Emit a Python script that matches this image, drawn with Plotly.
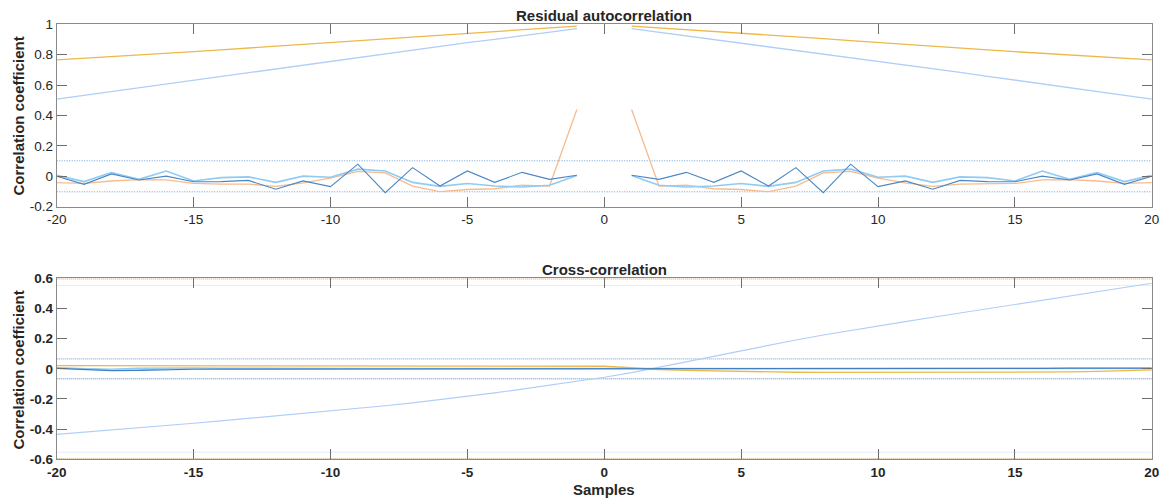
import plotly.graph_objects as go

# ---------------- data ----------------
# Residual autocorrelation, positive lags 1..20 (the function is symmetric in lag)
acf_lags = list(range(1, 21))
acf_bound_yellow = [0.988, 0.977, 0.965, 0.955, 0.944, 0.932, 0.919, 0.906, 0.893, 0.880,
                    0.868, 0.856, 0.844, 0.832, 0.820, 0.809, 0.798, 0.787, 0.776, 0.766]
acf_bound_blue = [0.972, 0.948, 0.924, 0.901, 0.879, 0.855, 0.831, 0.806, 0.782, 0.757,
                  0.732, 0.707, 0.683, 0.658, 0.633, 0.608, 0.583, 0.558, 0.533, 0.508]
acf_out1 = [0.007, -0.020, 0.026, -0.040, 0.035, -0.064, 0.057, -0.108, 0.080, -0.068,
            -0.030, -0.085, -0.027, -0.035, -0.036, 0.001, -0.024, 0.016, -0.053, 0.000]
acf_out2 = [0.005, -0.059, -0.070, -0.064, -0.047, -0.066, -0.040, 0.035, 0.047, -0.006,
            0.001, -0.040, -0.004, -0.009, -0.031, 0.035, -0.020, 0.025, -0.035, 0.006]
acf_out3 = [0.440, -0.064, -0.058, -0.082, -0.087, -0.101, -0.064, 0.022, 0.032, -0.012,
            -0.043, -0.066, -0.051, -0.051, -0.047, -0.024, -0.022, -0.031, -0.046, -0.042]
acf_conf = 0.102

# Cross-correlation, lags -20..20
ccf_lags = list(range(-20, 21))
ccf_in1 = [-0.435, -0.421, -0.407, -0.392, -0.377, -0.361, -0.345, -0.329, -0.313, -0.296,
           -0.279, -0.262, -0.245, -0.226, -0.205, -0.183, -0.159, -0.135, -0.110, -0.084,
           -0.056, -0.025, 0.009, 0.045, 0.082, 0.119, 0.156, 0.191, 0.224, 0.255,
           0.284, 0.313, 0.342, 0.370, 0.397, 0.424, 0.452, 0.480, 0.509, 0.538, 0.567]
ccf_in2 = [0.021, 0.021, 0.021, 0.021, 0.021, 0.021, 0.020, 0.020, 0.020, 0.020,
           0.020, 0.020, 0.020, 0.019, 0.019, 0.019, 0.019, 0.019, 0.018, 0.018,
           0.017, 0.007, -0.005, -0.011, -0.015, -0.019, -0.022, -0.023, -0.024, -0.024,
           -0.024, -0.024, -0.024, -0.024, -0.024, -0.024, -0.023, -0.021, -0.017, -0.012, -0.007]
ccf_in3 = [0.003, -0.006, -0.012, -0.010, -0.005, -0.003, -0.002, -0.002, -0.001, -0.002,
           -0.002, -0.001, -0.001, -0.001, -0.002, -0.002, -0.001, -0.001, -0.002, -0.002,
           -0.002, -0.002, -0.002, -0.002, -0.001, -0.001, -0.001, -0.001, 0.000, 0.000,
           0.000, 0.001, 0.001, 0.002, 0.002, 0.003, 0.003, 0.004, 0.004, 0.004, 0.004]
ccf_in4 = [0.006, 0.002, -0.002, 0.004, 0.006, 0.005, 0.004, 0.003, 0.003, 0.003,
           0.003, 0.003, 0.003, 0.003, 0.003, 0.002, 0.002, 0.002, 0.002, 0.002,
           0.002, 0.002, 0.002, 0.002, 0.002, 0.002, 0.002, 0.002, 0.002, 0.002,
           0.002, 0.002, 0.002, 0.003, 0.003, 0.003, 0.003, 0.003, 0.003, 0.003, 0.003]
ccf_in5 = [0.008, 0.001, -0.008, -0.007, 0.000, 0.002, 0.001, 0.001, 0.001, 0.001,
           0.001, 0.001, 0.001, 0.001, 0.001, 0.001, 0.001, 0.001, 0.001, 0.001,
           0.001, 0.001, 0.001, 0.001, 0.001, 0.001, 0.001, 0.001, 0.001, 0.001,
           0.001, 0.001, 0.001, 0.001, 0.001, 0.001, 0.001, 0.001, 0.001, 0.001, 0.001]
ccf_conf_inner = 0.066
ccf_conf_mid = 0.553
ccf_conf_outer = 0.596

x_ticks = [-20, -15, -10, -5, 0, 5, 10, 15, 20]
x_ticktext = ["-20", "-15", "-10", "-5", "0", "5", "10", "15", "20"]
y1_ticks = [-0.2, 0, 0.2, 0.4, 0.6, 0.8, 1]
y1_ticktext = ["-0.2", "0", "0.2", "0.4", "0.6", "0.8", "1"]
y2_ticks = [-0.6, -0.4, -0.2, 0, 0.2, 0.4, 0.6]
y2_ticktext = ["-0.6", "-0.4", "-0.2", "0", "0.2", "0.4", "0.6"]

# ---------------- helpers ----------------
FONT = "Arial, 'Liberation Sans', Helvetica, sans-serif"
TXT = "#262626"


def mirrored(values):
    """Lags -20..-1, gap at 0, lags 1..20."""
    xs = [-k for k in reversed(acf_lags)] + [0] + acf_lags
    ys = list(reversed(values)) + [None] + values
    return xs, ys


fig = go.Figure()


def line(x, y, color, width=1.0, dash="solid", axes=("x", "y")):
    fig.add_trace(go.Scatter(x=x, y=y, mode="lines", xaxis=axes[0], yaxis=axes[1],
                             line=dict(color=color, width=width, dash=dash),
                             connectgaps=False, hoverinfo="skip", showlegend=False))


# ---- top panel: residual autocorrelation ----
for lvl in (acf_conf, -acf_conf):
    line([-20, 20], [lvl, lvl], "#6A9FD8", 1.0, "1px,1.5px")
line(*mirrored(acf_bound_yellow), "#EDB84A", 1.3)
line(*mirrored(acf_bound_blue), "#B0CEF8", 1.3)
line(*mirrored(acf_out3), "#F7BB8F", 1.3)
line(*mirrored(acf_out2), "#8FCBF2", 1.6)
line(*mirrored(acf_out1), "#4A87C6", 1.1)

# ---- bottom panel: cross-correlation ----
ax2 = ("x2", "y2")
for lvl in (ccf_conf_outer, -ccf_conf_outer):
    line([-20, 20], [lvl, lvl], "#E8A84C", 1.2, "1px,1px", ax2)
for lvl in (ccf_conf_mid, -ccf_conf_mid):
    line([-20, 20], [lvl, lvl], "#C6D9F4", 1.0, "1px,1px", ax2)
for lvl in (ccf_conf_inner, -ccf_conf_inner):
    line([-20, 20], [lvl, lvl], "#86AEDA", 1.4, "1px,1px", ax2)
line(ccf_lags, ccf_in1, "#B0CEF8", 1.2, axes=ax2)
line(ccf_lags, ccf_in5, "#F7BB8F", 1.2, axes=ax2)
line(ccf_lags, ccf_in4, "#8FCBF2", 1.4, axes=ax2)
line(ccf_lags, ccf_in2, "#EDB84A", 1.3, axes=ax2)
line(ccf_lags, ccf_in3, "#3F7FC2", 1.2, axes=ax2)

# ---------------- layout ----------------
W, H = 1163, 499
x0, x1 = 56.7 / W, 1151.8 / W
top_dom = [1 - 206.7 / H, 1 - 24.3 / H]
bot_dom = [1 - 459.3 / H, 1 - 278.3 / H]

common_axis = dict(showgrid=False, zeroline=False, showline=True, linecolor="#8A8A8A",
                   linewidth=1, mirror="ticks", ticks="inside", ticklen=10, tickwidth=1,
                   tickcolor="#6E6E6E", automargin=False)

tick_reg = dict(family=FONT, size=13.5, color=TXT)
tick_bold = dict(family=FONT, size=13.5, color=TXT, weight="bold")

fig.update_layout(
    width=W, height=H, margin=dict(l=0, r=0, t=0, b=0, autoexpand=False),
    paper_bgcolor="white", plot_bgcolor="white",
    xaxis=dict(domain=[x0, x1], range=[-20, 20], anchor="y", tickvals=x_ticks,
               ticktext=x_ticktext, tickfont=tick_reg, **common_axis),
    yaxis=dict(domain=top_dom, range=[-0.2, 1], anchor="x", tickvals=y1_ticks,
               ticktext=y1_ticktext, tickfont=tick_reg, **common_axis),
    xaxis2=dict(domain=[x0, x1], range=[-20, 20], anchor="y2", tickvals=x_ticks,
                ticktext=x_ticktext, tickfont=tick_bold, **common_axis),
    yaxis2=dict(domain=bot_dom, range=[-0.6, 0.6], anchor="x2", tickvals=y2_ticks,
                ticktext=y2_ticktext, tickfont=tick_bold, **common_axis),
)

title_font = dict(family=FONT, size=15, color=TXT, weight="bold")
xc = (x0 + x1) / 2
annotations = [
    dict(text="Residual autocorrelation", x=xc, y=1 - 15 / H),
    dict(text="Cross-correlation", x=xc, y=1 - 269 / H),
    dict(text="Samples", x=xc, y=1 - 489 / H),
    dict(text="Correlation coefficient", x=17.5 / W, y=1 - 116 / H, textangle=-90),
    dict(text="Correlation coefficient", x=17.5 / W, y=1 - 370 / H, textangle=-90),
]
for a in annotations:
    fig.add_annotation(xref="paper", yref="paper", xanchor="center", yanchor="middle",
                       showarrow=False, font=title_font, **a)

fig.write_html("out.html")
